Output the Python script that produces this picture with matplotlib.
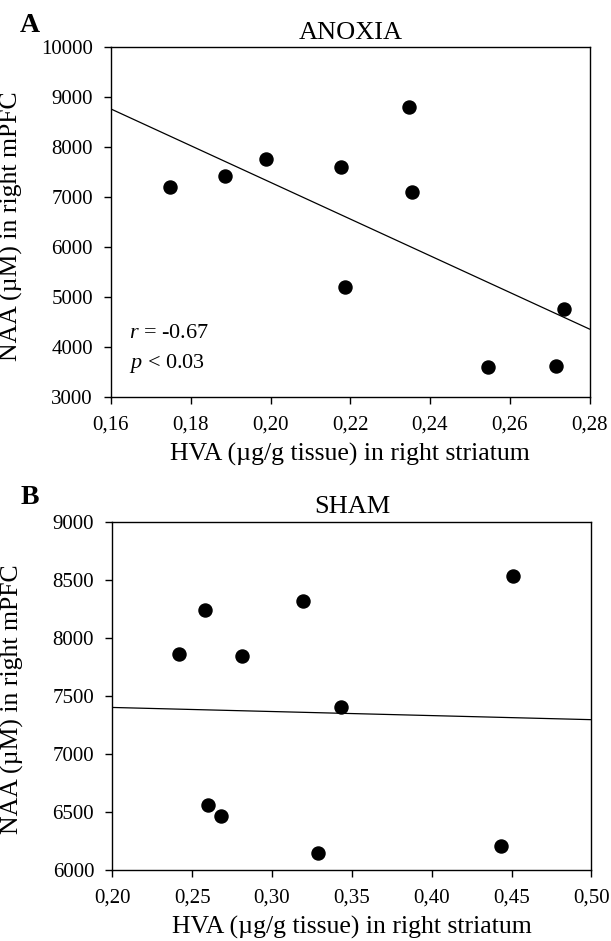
import numpy as np
import matplotlib
matplotlib.use("Agg")
import matplotlib.pyplot as plt
from matplotlib.ticker import FuncFormatter

plt.rcParams['font.family'] = ['Liberation Serif', 'DejaVu Serif']
plt.rcParams['mathtext.fontset'] = 'custom'
plt.rcParams['mathtext.rm'] = 'Liberation Serif'
plt.rcParams['mathtext.it'] = 'Liberation Serif:italic'

# Panel A: ANOXIA
anoxia_hva = [0.1748, 0.1887, 0.1988, 0.2177, 0.2187, 0.2347, 0.2356, 0.2546, 0.2715, 0.2736]
anoxia_naa = [7212, 7432, 7760, 7606, 5206, 8812, 7106, 3606, 3626, 4766]
anoxia_xticks = [0.16, 0.18, 0.20, 0.22, 0.24, 0.26, 0.28]
anoxia_yticks = [3000, 4000, 5000, 6000, 7000, 8000, 9000, 10000]

# Panel B: SHAM
sham_hva = [0.2418, 0.2580, 0.2810, 0.3192, 0.4506, 0.3430, 0.2598, 0.2680, 0.3290, 0.4434]
sham_naa = [7862, 8244, 7845, 8316, 8534, 7403, 6566, 6463, 6153, 6210]
sham_xticks = [0.20, 0.25, 0.30, 0.35, 0.40, 0.45, 0.50]
sham_yticks = [6000, 6500, 7000, 7500, 8000, 8500, 9000]

W, H = 611, 941
fig = plt.figure(figsize=(W / 100, H / 100), dpi=100)

def px_axes(l, t, r, b):
    return fig.add_axes([l / W, 1 - b / H, (r - l) / W, (b - t) / H])

axA = px_axes(111, 47.3, 589.5, 397.3)
axB = px_axes(112.3, 521.7, 591.5, 870.3)

comma = FuncFormatter(lambda v, p: f"{v:.2f}".replace('.', ','))

def style(ax, xt, yt, title, letter, letter_y):
    ax.set_xlim(xt[0], xt[-1])
    ax.set_ylim(yt[0], yt[-1])
    ax.set_xticks(xt)
    ax.set_yticks(yt)
    ax.xaxis.set_major_formatter(comma)
    ax.tick_params(direction='out', length=5, width=1, labelsize=15,
                   top=False, right=False, pad=8)
    for s in ax.spines.values():
        s.set_linewidth(1.0)
    ax.set_xlabel('HVA (µg/g tissue) in right striatum', fontsize=18.5, labelpad=6)
    ax.set_ylabel('NAA (µM) in right mPFC', fontsize=18.5)
    ax.yaxis.set_label_coords(-0.184, 0.49)
    ax.set_title(title, fontsize=19, pad=6)
    fig.text(30 / W, 1 - letter_y / H, letter, fontsize=20, fontweight='bold',
             ha='center', va='center')

def draw(ax, xs, ys, xt):
    ax.plot(xs, ys, 'o', color='black', markersize=9.4, linestyle='none', zorder=3)
    k, c = np.polyfit(xs, ys, 1)
    xl = np.array([xt[0], xt[-1]])
    ax.plot(xl, k * xl + c, color='black', linewidth=0.9, zorder=2)

draw(axA, anoxia_hva, anoxia_naa, anoxia_xticks)
draw(axB, sham_hva, sham_naa, sham_xticks)
style(axA, anoxia_xticks, anoxia_yticks, 'ANOXIA', 'A', 26)
style(axB, sham_xticks, sham_yticks, 'SHAM', 'B', 497)

axA.text(0.038, 0.169, r'$r$ = -0.67', transform=axA.transAxes, fontsize=16,
         va='baseline', ha='left')
axA.text(0.038, 0.083, r'$p$ < 0.03', transform=axA.transAxes, fontsize=16,
         va='baseline', ha='left')

fig.savefig('out.png', dpi=100)
